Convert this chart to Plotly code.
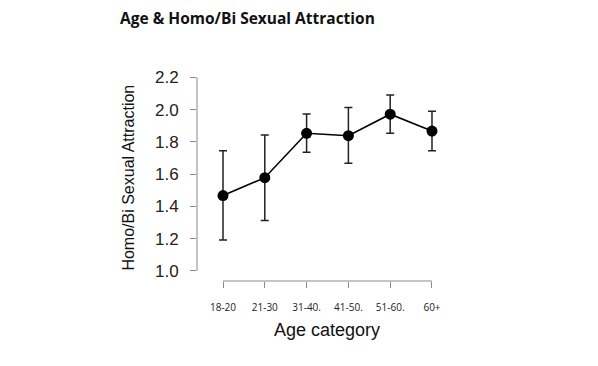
import plotly.graph_objects as go

categories = ["18-20", "21-30", "31-40.", "41-50.", "51-60.", "60+"]
means = [1.467, 1.578, 1.853, 1.838, 1.971, 1.867]
upper = [1.745, 1.843, 1.973, 2.012, 2.090, 1.989]
lower = [1.192, 1.312, 1.735, 1.667, 1.853, 1.745]
y_ticks = [1.0, 1.2, 1.4, 1.6, 1.8, 2.0, 2.2]

x_idx = list(range(len(categories)))
err_plus = [u - m for u, m in zip(upper, means)]
err_minus = [m - l for m, l in zip(means, lower)]

fig = go.Figure()
fig.add_trace(go.Scatter(
    x=x_idx, y=means, mode="lines+markers",
    line=dict(color="black", width=1.6),
    marker=dict(color="black", size=11),
    error_y=dict(type="data", array=err_plus, arrayminus=err_minus,
                 color="#222222", thickness=1.5, width=4),
    showlegend=False,
))

axis_gray = "#8a8a8a"
fig.update_layout(
    width=598, height=366,
    margin=dict(l=189, r=146, t=62, b=93),
    paper_bgcolor="white", plot_bgcolor="white",
    xaxis=dict(
        range=[-0.622, 5.67], tickvals=x_idx, ticktext=categories,
        showgrid=False, zeroline=False, showline=False,
        ticks="outside", ticklen=6, tickcolor=axis_gray, tickwidth=1,
        ticklabelstandoff=11,
        tickfont=dict(family="Open Sans", size=10, color="#222222"),
    ),
    yaxis=dict(
        range=[0.938, 2.245], tickvals=y_ticks,
        ticktext=[f"{v:.1f}" for v in y_ticks],
        showgrid=False, zeroline=False, showline=False,
        ticks="outside", ticklen=6, tickcolor=axis_gray, tickwidth=1,
        ticklabelstandoff=8,
        tickfont=dict(family="Liberation Sans, Arial", size=17, color="#222222"),
    ),
)

# R-style axis lines spanning only the tick range
fig.add_shape(type="line", xref="x", yref="paper", x0=x_idx[0], x1=x_idx[-1],
              y0=0, y1=0, line=dict(color=axis_gray, width=1))
fig.add_shape(type="line", xref="paper", yref="y", x0=0, x1=0,
              y0=y_ticks[0], y1=y_ticks[-1], line=dict(color=axis_gray, width=1))

fig.add_annotation(text="Homo/Bi Sexual Attraction", textangle=-90,
                   xref="paper", yref="paper", x=0, y=0.49, xshift=-68,
                   xanchor="center", yanchor="middle", showarrow=False,
                   font=dict(family="Liberation Sans, Arial", size=16, color="#111111"))
fig.add_annotation(text="Age category", xref="paper", yref="paper",
                   x=0.494, y=-0.232, xanchor="center", yanchor="middle",
                   showarrow=False,
                   font=dict(family="Liberation Sans, Arial", size=18, color="#111111"))
fig.add_annotation(text="<b>Age &amp; Homo/Bi Sexual Attraction</b>",
                   xref="paper", yref="paper", x=-0.300, y=1.246,
                   xanchor="left", yanchor="middle", showarrow=False,
                   font=dict(family="Open Sans", size=15.5, color="#111111"))

fig.write_html("out.html")
